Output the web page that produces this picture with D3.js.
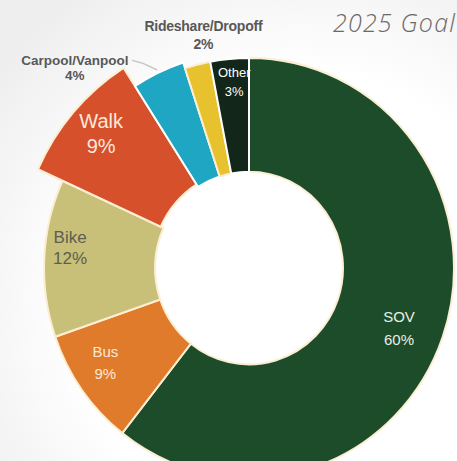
<!DOCTYPE html>
<html>
<head>
<meta charset="utf-8">
<script src="https://cdn.jsdelivr.net/npm/d3@7"></script>
<style>
  html, body { margin: 0; padding: 0; background: #ffffff; }
  svg { display: block; }
</style>
</head>
<body>
<svg id="chart" width="457" height="461"></svg>
<script>
// Commute mode split, 2025 goal (percent of trips)
const modes  = ["SOV", "Bus", "Bike", "Walk", "Carpool/Vanpool", "Rideshare/Dropoff", "Other"];
const shares = [60, 9, 12, 9, 4, 2, 3];
const shareLabels = ["60%", "9%", "12%", "9%", "4%", "2%", "3%"];
const title = "2025 Goal";

const palette = ["#1d4c2a", "#e07b2b", "#c8c078", "#d6502c", "#1fa6c2", "#e8c22e", "#12261a"];

const W = 457, H = 461;
const cx = 249, cy = 268, sy = 1.025;
const rInner = 94, rOuter = 205;

const svg = d3.select("#chart");

// soft grey wash toward the edges
const defs = svg.append("defs");
const bg = defs.append("radialGradient").attr("id", "bg")
  .attr("gradientUnits", "userSpaceOnUse")
  .attr("cx", 300).attr("cy", 300).attr("r", 380);
bg.append("stop").attr("offset", "0.6").attr("stop-color", "#ffffff");
bg.append("stop").attr("offset", "1").attr("stop-color", "#eeeeee");
svg.append("rect").attr("width", W).attr("height", H).attr("fill", "url(#bg)");

const data = modes.map((m, i) => ({ mode: m, value: shares[i], label: shareLabels[i], color: palette[i] }));

const pie = d3.pie().sort(null).value(d => d.value).startAngle(0).endAngle(2 * Math.PI);
const arcsData = pie(data);

// Walk is pulled out as a larger wedge; carpool sits slightly proud
const outerFor = d => d.data.mode === "Walk" ? 232 : d.data.mode === "Carpool/Vanpool" ? 211 : rOuter;
const innerFor = d => d.data.mode === "Walk" ? 97 : rInner;

const arc = d3.arc()
  .innerRadius(innerFor)
  .outerRadius(outerFor);

const g = svg.append("g").attr("transform", `translate(${cx},${cy}) scale(1,${sy})`);
g.selectAll("path.slice")
  .data(arcsData)
  .join("path")
  .attr("class", "slice")
  .attr("d", arc)
  .attr("fill", d => d.data.color)
  .attr("stroke", d => d.data.mode === "Other" || d.data.mode === "Carpool/Vanpool" ? "#ffffff" : "#fbeed2")
  .attr("stroke-width", 2)
  .attr("stroke-linejoin", "round");

// polar helper in page coordinates (angle in radians, clockwise from 12 o'clock)
const polar = (a, r) => [cx + r * Math.sin(a), cy - r * Math.cos(a) * sy];
const mid = d => (d.startAngle + d.endAngle) / 2;
const deg = Math.PI / 180;

// label placement per mode: radius, angular nudge, type
const labelSpec = {
  "SOV":               { r: 161, turn: 2.2,   size: 15,   lead: 23, fill: "#e8efe6", weight: 400 },
  "Bus":               { r: 171, turn: 2.6,   size: 15,   lead: 22, fill: "#fbe8d4", weight: 400 },
  "Bike":              { r: 180, turn: 3.7,   size: 17,   lead: 21, fill: "#5e5e52", weight: 400 },
  "Walk":              { r: 198, turn: 0.8,   size: 20,   lead: 25, fill: "#fde8dc", weight: 400 },
  "Other":             { r: 182, turn: 0.8,   size: 13,   lead: 19, fill: "#ffffff", weight: 400 },
  "Rideshare/Dropoff": { r: 232, turn: 3.2,   size: 14,   lead: 18, fill: "#585858", weight: 700, ls: -0.25 },
  "Carpool/Vanpool":   { r: 262, turn: -16.2, size: 13.5, lead: 15, fill: "#585858", weight: 700, ls: 0 }
};

// leader line for the carpool wedge
const carpool = arcsData.find(d => d.data.mode === "Carpool/Vanpool");
{
  const a = mid(carpool);
  const p0 = polar(a, 211 + 3);
  const p1 = polar(a - 2.5 * deg, 226);
  const p2 = [p1[0] - 11, p1[1] - 3];
  svg.append("path")
    .attr("d", d3.line()([p0, p1, p2]))
    .attr("fill", "none")
    .attr("stroke", "#c4c4c4")
    .attr("stroke-width", 1.5);
}

const labels = svg.append("g")
  .attr("font-family", "'Liberation Sans', Arial, sans-serif")
  .attr("text-anchor", "middle");

arcsData.forEach(d => {
  const s = labelSpec[d.data.mode];
  const [x, y] = polar(mid(d) + s.turn * deg, s.r);
  const t = labels.append("text")
    .attr("fill", s.fill)
    .attr("font-size", s.size)
    .attr("font-weight", s.weight)
    .attr("letter-spacing", s.ls || 0);
  t.append("tspan").attr("x", x).attr("y", y - s.lead / 2 + 0.36 * s.size).text(d.data.mode);
  t.append("tspan").attr("x", x).attr("y", y + s.lead / 2 + 0.36 * s.size).text(d.data.label);
});

// title
svg.append("text")
  .attr("x", 333).attr("y", 32)
  .attr("font-family", "'Open Sans', 'DejaVu Sans', sans-serif")
  .attr("font-style", "italic")
  .attr("font-weight", 300)
  .attr("font-size", 25)
  .attr("letter-spacing", 1.2)
  .attr("fill", "#6a6a6a")
  .text(title);
</script>
</body>
</html>
